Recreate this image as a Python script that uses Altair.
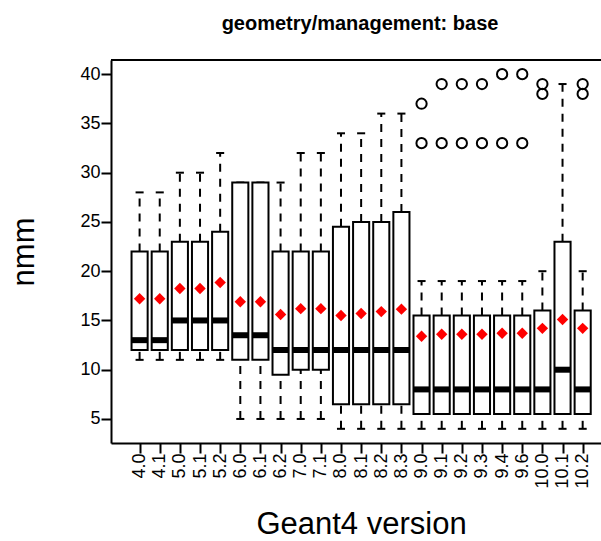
import altair as alt
import pandas as pd

versions = ["4.0", "4.1", "5.0", "5.1", "5.2", "6.0", "6.1", "6.2", "7.0", "7.1",
            "8.0", "8.1", "8.2", "8.3", "9.0", "9.1", "9.2", "9.3", "9.4", "9.6",
            "10.0", "10.1", "10.2"]
lower = [11, 11, 11, 11, 11, 5, 5, 5, 5, 5, 4, 4, 4, 4, 4, 4, 4, 4, 4, 4, 4, 4, 4]
q1 = [12, 12, 12, 12, 12, 11, 11, 9.5, 10, 10, 6.5, 6.5, 6.5, 6.5,
      5.5, 5.5, 5.5, 5.5, 5.5, 5.5, 5.5, 5.5, 5.5]
median = [13, 13, 15, 15, 15, 13.5, 13.5, 12, 12, 12, 12, 12, 12, 12,
          8, 8, 8, 8, 8, 8, 8, 10, 8]
q3 = [22, 22, 23, 23, 24, 29, 29, 22, 22, 22, 24.5, 25, 25, 26,
      15.5, 15.5, 15.5, 15.5, 15.5, 15.5, 16, 23, 16]
upper = [28, 28, 30, 30, 32, 29, 29, 29, 32, 32, 34, 34, 36, 36,
         19, 19, 19, 19, 19, 19, 20, 39, 20]
mean = [17.2, 17.2, 18.25, 18.25, 18.85, 16.9, 16.9, 15.6, 16.2, 16.2,
        15.5, 15.7, 15.9, 16.15, 13.4, 13.6, 13.6, 13.6, 13.7, 13.7, 14.2, 15.1, 14.2]

out_version = ["9.0", "9.0", "9.1", "9.1", "9.2", "9.2", "9.3", "9.3", "9.4", "9.4",
               "9.6", "9.6", "10.0", "10.0", "10.2", "10.2"]
out_value = [37, 33, 39, 33, 39, 33, 39, 33, 40, 33, 40, 33, 39, 38, 39, 38]

y_ticks = [5, 10, 15, 20, 25, 30, 35, 40]

df = pd.DataFrame({"version": versions, "lower": lower, "q1": q1, "median": median,
                   "q3": q3, "upper": upper, "mean": mean})
df["idx"] = range(1, len(versions) + 1)
df["xl"] = df["idx"] - 0.4
df["xr"] = df["idx"] + 0.4
df["cl"] = df["idx"] - 0.2
df["cr"] = df["idx"] + 0.2

odf = pd.DataFrame({"version": out_version, "value": out_value})
odf["idx"] = odf["version"].map({v: i + 1 for i, v in enumerate(versions)})

W, H = 490, 383
FONT = "Liberation Sans"

label_expr = "[" + ",".join(f"'{v}'" for v in versions) + "][datum.value-1]"

xscale = alt.Scale(domain=[-0.42, 23.91], nice=False, zero=False)
yscale = alt.Scale(domain=[2.56, 41.44], nice=False, zero=False)

xaxis = alt.Axis(values=list(range(1, len(versions) + 1)), labelExpr=label_expr,
                 labelAngle=270, labelAlign="right", labelBaseline="middle",
                 labelFontSize=18, labelPadding=0, labelOverlap=False, labelFlush=False,
                 tickSize=10, tickWidth=2, tickColor="black", domainColor="black",
                 domainWidth=2, grid=False, labelColor="black",
                 title="Geant4 version", titleFontSize=31, titleFontWeight="normal",
                 titleX=250, titleY=90, titleBaseline="alphabetic", titleAlign="center",
                 titleColor="black")
yaxis = alt.Axis(values=y_ticks, labelFontSize=18, labelPadding=1, tickSize=10,
                 tickWidth=2, tickColor="black", domainColor="black", domainWidth=2,
                 grid=False, labelColor="black", labelOverlap=False, labelFlush=False,
                 title="nmm", titleFontSize=31, titleFontWeight="normal",
                 titleX=-78, titleY=H / 2, titleBaseline="alphabetic", titleAlign="center",
                 titleAngle=270, titleColor="black")

base = alt.Chart(df)

whisk_up = base.mark_rule(color="black", strokeWidth=2, strokeDash=[8, 7]).encode(
    x=alt.X("idx:Q", scale=xscale, axis=xaxis),
    y=alt.Y("q3:Q", scale=yscale, axis=yaxis),
    y2="upper:Q",
)
whisk_lo = base.mark_rule(color="black", strokeWidth=2, strokeDash=[8, 7]).encode(
    x=alt.X("idx:Q", scale=xscale, axis=xaxis),
    y=alt.Y("lower:Q", scale=yscale, axis=yaxis),
    y2="q1:Q",
)
cap_up = base.mark_rule(color="black", strokeWidth=2).encode(
    x=alt.X("cl:Q", scale=xscale, axis=xaxis), x2="cr:Q",
    y=alt.Y("upper:Q", scale=yscale, axis=yaxis),
)
cap_lo = base.mark_rule(color="black", strokeWidth=2).encode(
    x=alt.X("cl:Q", scale=xscale, axis=xaxis), x2="cr:Q",
    y=alt.Y("lower:Q", scale=yscale, axis=yaxis),
)
boxes = base.mark_rect(fill="white", stroke="black", strokeWidth=2).encode(
    x=alt.X("xl:Q", scale=xscale, axis=xaxis), x2="xr:Q",
    y=alt.Y("q1:Q", scale=yscale, axis=yaxis), y2="q3:Q",
)
medians = base.mark_rule(color="black", strokeWidth=6, strokeCap="butt").encode(
    x=alt.X("xl:Q", scale=xscale, axis=xaxis), x2="xr:Q",
    y=alt.Y("median:Q", scale=yscale, axis=yaxis),
)
means = base.mark_point(shape="diamond", filled=True, color="#ff0000", size=130, opacity=1).encode(
    x=alt.X("idx:Q", scale=xscale, axis=xaxis),
    y=alt.Y("mean:Q", scale=yscale, axis=yaxis),
)
outliers = alt.Chart(odf).mark_point(shape="circle", filled=False, color="black",
                                     size=105, strokeWidth=2, opacity=1).encode(
    x=alt.X("idx:Q", scale=xscale, axis=xaxis),
    y=alt.Y("value:Q", scale=yscale, axis=yaxis),
)
frame_top = alt.Chart(alt.Data(values=[{}])).mark_rule(color="black", strokeWidth=2).encode(
    x=alt.value(0), x2=alt.value(W), y=alt.value(0)
)

chart = alt.layer(
    whisk_up, whisk_lo, cap_up, cap_lo, boxes, medians, means, outliers, frame_top
).properties(
    width=W, height=H,
    autosize=alt.AutoSizeParams(type="none"),
    padding={"left": 111, "top": 60, "right": 0, "bottom": 98},
    title=alt.TitleParams(text="geometry/management: base", fontSize=20, fontWeight="bold",
                          font=FONT, anchor="middle", frame="group", dx=4, offset=9,
                          baseline="alphabetic", color="black"),
).configure_view(stroke=None).configure_axis(
    labelFont=FONT, titleFont=FONT
).configure(background="white")

chart.save("out.html", embed_options={"renderer": "svg", "actions": False})
